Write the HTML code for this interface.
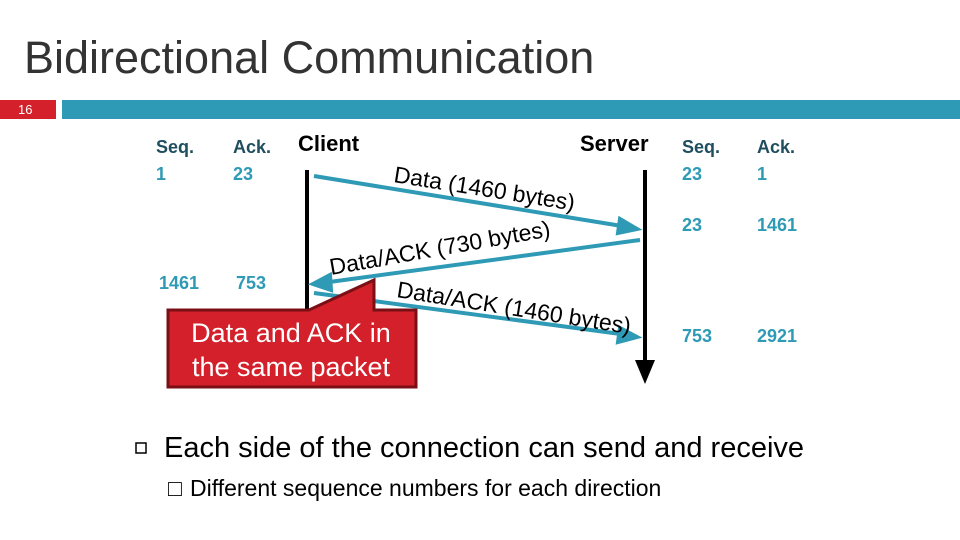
<!DOCTYPE html>
<html><head><meta charset="utf-8"><style>
body{margin:0;width:960px;height:540px;background:#fff;position:relative;overflow:hidden;font-family:"Liberation Sans",sans-serif}
.a{position:absolute;white-space:nowrap}
.h{font-weight:bold;color:#1f4e5f;font-size:18px}
.v{font-weight:bold;color:#2e9ab5;font-size:18px}
</style></head><body>
<div class="a" style="left:24px;top:32px;font-size:45px;color:#333">Bidirectional Communication</div>
<div class="a" style="left:0;top:100px;width:56px;height:19px;background:#d3202a;color:#fff;font-size:13px;line-height:19px;text-indent:18px">16</div>
<div class="a" style="left:62px;top:100px;width:898px;height:19px;background:#2e9ab5"></div>
<div class="a h" style="left:156px;top:137px">Seq.</div>
<div class="a h" style="left:233px;top:137px">Ack.</div>
<div class="a v" style="left:156px;top:164px">1</div>
<div class="a v" style="left:233px;top:164px">23</div>
<div class="a v" style="left:159px;top:273px">1461</div>
<div class="a v" style="left:236px;top:273px">753</div>
<div class="a h" style="left:682px;top:137px">Seq.</div>
<div class="a h" style="left:757px;top:137px">Ack.</div>
<div class="a v" style="left:682px;top:164px">23</div>
<div class="a v" style="left:757px;top:164px">1</div>
<div class="a v" style="left:682px;top:215px">23</div>
<div class="a v" style="left:757px;top:215px">1461</div>
<div class="a v" style="left:682px;top:326px">753</div>
<div class="a v" style="left:757px;top:326px">2921</div>
<div class="a" style="left:298px;top:131px;font-size:22px;font-weight:bold">Client</div>
<div class="a" style="left:580px;top:131px;font-size:22px;font-weight:bold">Server</div>
<svg class="a" style="left:0;top:0" width="960" height="540">
<line x1="307" y1="170" x2="307" y2="320" stroke="#000" stroke-width="4"/>
<line x1="645" y1="170" x2="645" y2="368" stroke="#000" stroke-width="4"/>
<polygon points="635,360 655,360 645,384" fill="#000"/>
<g stroke="#2e9ab5" stroke-width="4" fill="#2e9ab5">
<line x1="314" y1="176" x2="628" y2="227"/>
<polygon points="637,229 620,219 618,233"/>
<line x1="640" y1="240" x2="322" y2="283"/>
<polygon points="313,284 330,275 331,290"/>
<line x1="314" y1="293" x2="628" y2="335"/>
<polygon points="637,337 620,328 618,342"/>
</g>
<polygon points="168,310 309,310 374,280 374,310 416,310 416,387 168,387" fill="#d3202a" stroke="#7a1016" stroke-width="3"/>
<text x="291" y="342" font-size="27" fill="#fff" text-anchor="middle" font-family="Liberation Sans">Data and ACK in</text>
<text x="291" y="376" font-size="27" fill="#fff" text-anchor="middle" font-family="Liberation Sans">the same packet</text>
<g font-family="Liberation Sans" font-size="23" fill="#000">
<text transform="translate(393,182) rotate(9)">Data (1460 bytes)</text>
<text transform="translate(331,275) rotate(-10)">Data/ACK (730 bytes)</text>
<text transform="translate(396,297) rotate(9)">Data/ACK (1460 bytes)</text>
</g>
<rect x="136" y="443" width="10" height="10" fill="none" stroke="#000" stroke-width="1.5"/>
</svg>
<div class="a" style="left:164px;top:432px;font-size:29px">Each side of the connection can send and receive</div>
<div class="a" style="left:168px;top:475px;font-size:23px">&#9633;</div>
<div class="a" style="left:190px;top:475px;font-size:23px">Different sequence numbers for each direction</div>
</body></html>
